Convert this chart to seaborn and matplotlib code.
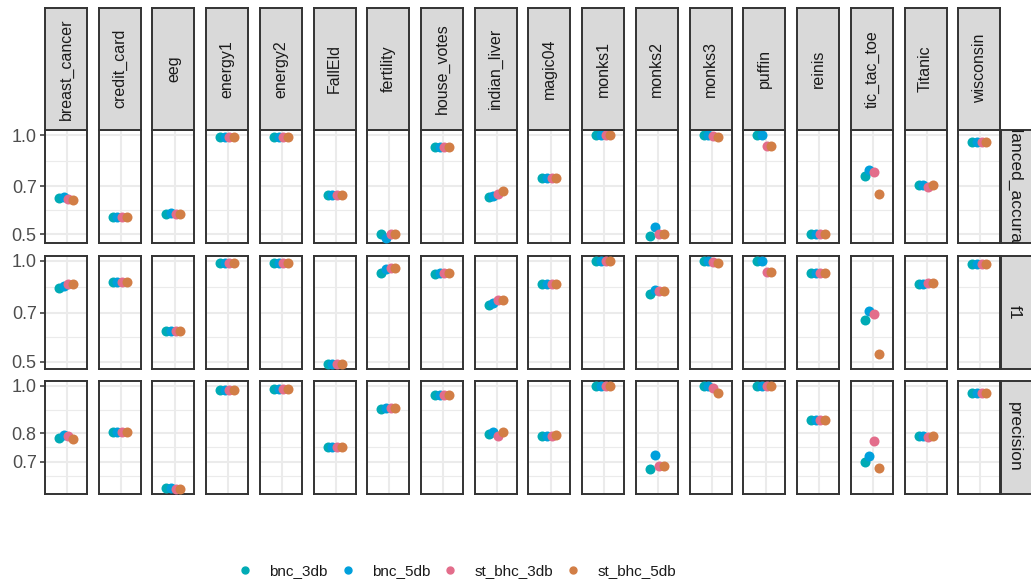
import numpy as np
import pandas as pd
import matplotlib
matplotlib.use("Agg")
import matplotlib.pyplot as plt
import seaborn as sns
from matplotlib.ticker import FixedLocator, NullFormatter, FixedFormatter

# ---------------- data ----------------
datasets = ["breast_cancer", "credit_card", "eeg", "energy1", "energy2", "FallEld",
            "fertility", "house_votes", "indian_liver", "magic04", "monks1", "monks2",
            "monks3", "puffin", "reinis", "tic_tac_toe", "Titanic", "wisconsin"]
methods = ["bnc_3db", "bnc_5db", "st_bhc_3db", "st_bhc_5db"]
metrics = ["balanced_accuracy", "f1", "precision"]

ba_bnc_3db = [0.645, 0.565, 0.577, 0.986, 0.988, 0.657, 0.502, 0.922, 0.648, 0.741, 1.0, 0.492, 1.0, 1.0, 0.500, 0.753, 0.707, 0.953]
ba_bnc_5db = [0.648, 0.565, 0.578, 0.986, 0.988, 0.657, 0.486, 0.922, 0.655, 0.741, 1.0, 0.527, 1.0, 1.0, 0.500, 0.785, 0.707, 0.953]
ba_st_bhc_3db = [0.641, 0.565, 0.577, 0.986, 0.988, 0.657, 0.500, 0.922, 0.660, 0.741, 1.0, 0.500, 0.993, 0.929, 0.500, 0.775, 0.694, 0.953]
ba_st_bhc_5db = [0.636, 0.565, 0.574, 0.986, 0.988, 0.657, 0.500, 0.922, 0.674, 0.741, 1.0, 0.500, 0.984, 0.929, 0.500, 0.663, 0.704, 0.953]

f1_bnc_3db = [0.831, 0.864, 0.617, 0.986, 0.986, 0.492, 0.921, 0.913, 0.738, 0.850, 1.0, 0.794, 1.0, 1.0, 0.921, 0.666, 0.850, 0.976]
f1_bnc_5db = [0.840, 0.864, 0.618, 0.986, 0.986, 0.492, 0.943, 0.917, 0.746, 0.850, 1.0, 0.818, 1.0, 1.0, 0.921, 0.710, 0.850, 0.976]
f1_st_bhc_3db = [0.850, 0.864, 0.617, 0.986, 0.986, 0.492, 0.949, 0.921, 0.764, 0.850, 1.0, 0.814, 0.993, 0.923, 0.921, 0.694, 0.856, 0.976]
f1_st_bhc_5db = [0.850, 0.864, 0.615, 0.986, 0.986, 0.492, 0.949, 0.921, 0.764, 0.850, 1.0, 0.814, 0.982, 0.923, 0.921, 0.527, 0.856, 0.976]

pr_bnc_3db = [0.782, 0.805, 0.6175, 0.980, 0.986, 0.749, 0.896, 0.959, 0.799, 0.790, 1.0, 0.675, 1.0, 1.0, 0.852, 0.699, 0.791, 0.969]
pr_bnc_5db = [0.792, 0.805, 0.6175, 0.980, 0.986, 0.749, 0.901, 0.959, 0.805, 0.790, 1.0, 0.723, 1.0, 1.0, 0.852, 0.718, 0.791, 0.969]
pr_st_bhc_3db = [0.789, 0.805, 0.617, 0.980, 0.986, 0.749, 0.901, 0.959, 0.791, 0.790, 1.0, 0.685, 0.989, 1.0, 0.852, 0.772, 0.786, 0.969]
pr_st_bhc_5db = [0.778, 0.805, 0.616, 0.980, 0.986, 0.749, 0.901, 0.959, 0.805, 0.792, 1.0, 0.685, 0.968, 1.0, 0.852, 0.678, 0.791, 0.969]

row_ticks = {"balanced_accuracy": [0.5, 0.7, 1.0],
             "f1": [0.5, 0.7, 1.0],
             "precision": [0.7, 0.8, 1.0]}

palette = {"bnc_3db": "#00ABB5", "bnc_5db": "#00A0DC",
           "st_bhc_3db": "#E36D8B", "st_bhc_5db": "#D27E46"}

series = {
    ("balanced_accuracy", "bnc_3db"): ba_bnc_3db, ("balanced_accuracy", "bnc_5db"): ba_bnc_5db,
    ("balanced_accuracy", "st_bhc_3db"): ba_st_bhc_3db, ("balanced_accuracy", "st_bhc_5db"): ba_st_bhc_5db,
    ("f1", "bnc_3db"): f1_bnc_3db, ("f1", "bnc_5db"): f1_bnc_5db,
    ("f1", "st_bhc_3db"): f1_st_bhc_3db, ("f1", "st_bhc_5db"): f1_st_bhc_5db,
    ("precision", "bnc_3db"): pr_bnc_3db, ("precision", "bnc_5db"): pr_bnc_5db,
    ("precision", "st_bhc_3db"): pr_st_bhc_3db, ("precision", "st_bhc_5db"): pr_st_bhc_5db,
}
rows = []
for (met, m), vals in series.items():
    for d, v in zip(datasets, vals):
        rows.append({"metric": met, "method": m, "dataset": d, "value": v, "grp": "a"})
df = pd.DataFrame(rows)

# ---------------- style ----------------
sns.set_theme(style="white")
plt.rcParams["font.family"] = ["Liberation Sans", "DejaVu Sans"]

W, H = 1031, 582
fig = plt.figure(figsize=(W / 100, H / 100), dpi=100)


def frac(x0, y0, w, h):
    return [x0 / W, 1 - (y0 + h) / H, w / W, h / H]


BORDER = "#333333"
GRID = "#EBEBEB"
col_left, col_step, panel_w = 45.0, 53.72, 42.0
row_top = [130.0, 255.7, 380.7]
panel_h = 113.3


def minor_breaks(ticks, lo, hi):
    b = np.log(np.array(sorted(ticks)))
    bd = b[1] - b[0]
    if lo < b[0]:
        b = np.concatenate([[b[0] - bd], b])
    if hi > b[-1]:
        b = np.concatenate([b, [b[-1] + bd]])
    mids = (b[:-1] + b[1:]) / 2
    mids = mids[(mids >= lo) & (mids <= hi)]
    return list(np.exp(mids))


for r, met in enumerate(metrics):
    dmet = df[df.metric == met]
    lo = np.log(dmet.value.min())
    hi = np.log(dmet.value.max())
    pad = 0.05 * (hi - lo)
    lo, hi = lo - pad, hi + pad
    ticks = row_ticks[met]
    minors = minor_breaks(ticks, lo, hi)
    for c, ds in enumerate(datasets):
        ax = fig.add_axes(frac(col_left + c * col_step, row_top[r], panel_w, panel_h))
        sub = dmet[dmet.dataset == ds]
        sns.stripplot(data=sub, x="grp", y="value", hue="method", hue_order=methods,
                      palette=palette, dodge=True, jitter=False, size=7.2,
                      linewidth=0, ax=ax, legend=False, zorder=3)
        ax.set_yscale("log")
        ax.set_ylim(np.exp(lo), np.exp(hi))
        ax.set_xlim(-0.9, 0.9)
        ax.yaxis.set_major_locator(FixedLocator(ticks))
        ax.yaxis.set_major_formatter(FixedFormatter([f"{t:.1f}" for t in ticks]))
        ax.yaxis.set_minor_locator(FixedLocator(minors))
        ax.yaxis.set_minor_formatter(NullFormatter())
        ax.set_xticks([0.05])
        ax.set_xticklabels([])
        ax.set_xlabel("")
        ax.set_ylabel("")
        ax.set_facecolor("white")
        ax.set_axisbelow(True)
        ax.grid(True, which="major", axis="both", color=GRID, lw=1.5)
        ax.grid(True, which="minor", axis="y", color=GRID, lw=0.8)
        for sp in ax.spines.values():
            sp.set_color(BORDER)
            sp.set_linewidth(1.4)
            sp.set_visible(True)
        ax.tick_params(axis="x", length=0)
        ax.tick_params(axis="y", which="minor", length=0)
        if c == 0:
            ax.tick_params(axis="y", which="major", length=3.5, width=1.1, color=BORDER,
                           labelsize=13, labelcolor="#4D4D4D", pad=2.5, left=True)
        else:
            ax.tick_params(axis="y", which="major", length=0, labelleft=False)

        # top strips
        if r == 0:
            sax = fig.add_axes(frac(col_left + c * col_step, 8.0, panel_w, 121.5))
            sax.set_facecolor("#D9D9D9")
            sax.set_xticks([]); sax.set_yticks([])
            for sp in sax.spines.values():
                sp.set_color(BORDER); sp.set_linewidth(1.4)
            sax.text(0.5, 0.5, ds, rotation=90, ha="center", va="center",
                     fontsize=11.5, color="#1A1A1A", transform=sax.transAxes)

    # right strips
    rax = fig.add_axes(frac(1001.0, row_top[r], 36.0, panel_h))
    rax.set_facecolor("#D9D9D9")
    rax.set_xticks([]); rax.set_yticks([])
    for sp in rax.spines.values():
        sp.set_color(BORDER); sp.set_linewidth(1.4)
    rax.text((1014 - 1001) / 36.0, 0.5, met, rotation=-90, ha="center", va="center",
             fontsize=12.5, color="#1A1A1A", transform=rax.transAxes, clip_on=True)

# legend
handles = [plt.Line2D([], [], marker="o", ls="", color=palette[m], markersize=5.0) for m in methods]
fig.legend(handles, methods, loc="center", bbox_to_anchor=(0.443, 1 - 571 / H), ncol=4,
           frameon=False, fontsize=11, handlelength=1.0, handletextpad=1.1,
           columnspacing=0.8, labelcolor="#1A1A1A")

fig.savefig("out.png", dpi=100)
